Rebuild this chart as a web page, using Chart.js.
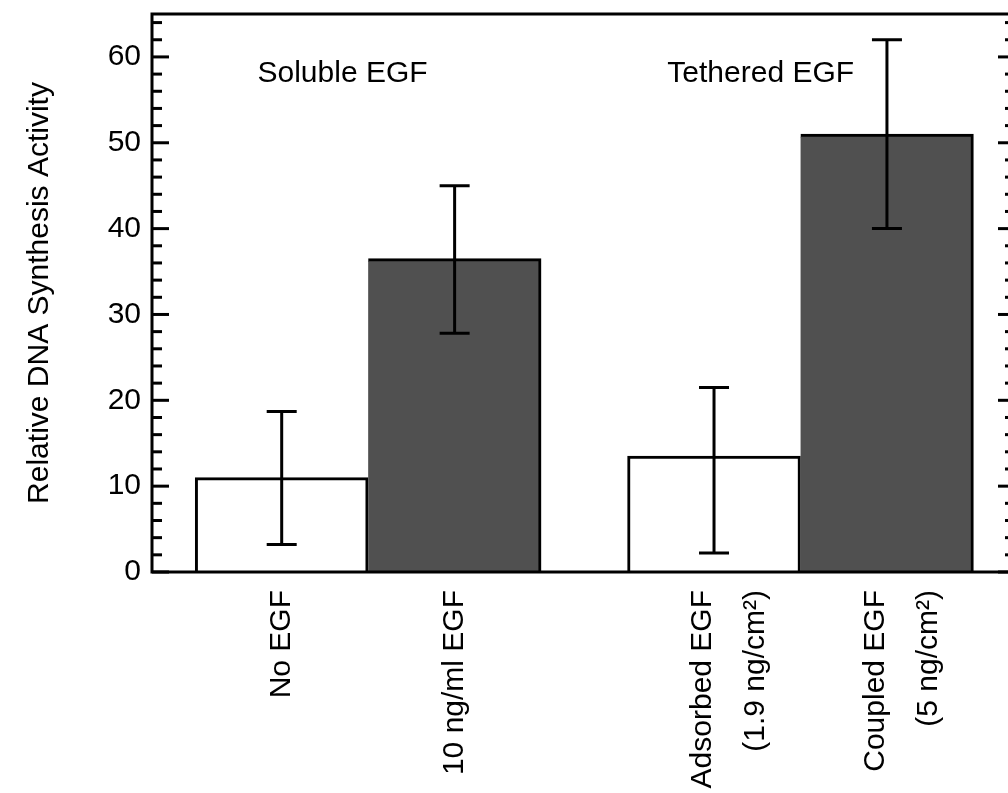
<!DOCTYPE html>
<html>
<head>
<meta charset="utf-8">
<script src="https://cdn.jsdelivr.net/npm/chart.js@4.4.1/dist/chart.umd.min.js"></script>
<style>
  html, body { margin: 0; padding: 0; background: #ffffff; overflow: hidden; }
  #wrap { position: relative; width: 1008px; height: 793px; }
</style>
</head>
<body>
<div id="wrap"><canvas id="chart" width="1008" height="793"></canvas></div>
<script>
// Treatments, split into soluble and tethered groups
const categories = [
  ['No EGF'],
  ['10 ng/ml EGF'],
  ['Adsorbed EGF', '(1.9 ng/cm²)'],
  ['Coupled EGF', '(5 ng/cm²)']
];
const positions = [0, 1, 2.5, 3.5];          // slot of each bar along the x scale
const activity = [11, 36.5, 13.5, 51];        // relative DNA synthesis activity
const errUpper = [18.7, 45, 21.5, 62];        // upper end of error bar
const errLower = [3.2, 27.8, 2.2, 40];        // lower end of error bar
const barFills = ['#ffffff', '#505050', '#ffffff', '#505050'];
const groupNames = ['Soluble EGF', 'Tethered EGF'];
const yTicks = [0, 10, 20, 30, 40, 50, 60];

const FONT = '"Liberation Sans", Arial, Helvetica, sans-serif';

// Group captions sit at these scale coordinates
const groupAnchors = [{ x: -0.14, y: 58 }, { x: 2.23, y: 58 }];

const frameAndMarks = {
  id: 'frameAndMarks',
  afterDatasetsDraw(chart) {
    const { ctx, chartArea: a, scales: { x, y } } = chart;
    ctx.save();
    ctx.strokeStyle = '#000';
    ctx.fillStyle = '#000';
    ctx.lineWidth = 3;
    ctx.lineCap = 'butt';

    // error bars
    positions.forEach((p, i) => {
      const px = x.getPixelForValue(p);
      const top = y.getPixelForValue(errUpper[i]);
      const bot = y.getPixelForValue(errLower[i]);
      ctx.beginPath();
      ctx.moveTo(px, top); ctx.lineTo(px, bot);
      ctx.moveTo(px - 15, top); ctx.lineTo(px + 15, top);
      ctx.moveTo(px - 15, bot); ctx.lineTo(px + 15, bot);
      ctx.stroke();
    });

    // frame: top edge, left axis, bottom axis
    ctx.beginPath();
    ctx.moveTo(a.right, a.top);
    ctx.lineTo(a.left, a.top);
    ctx.lineTo(a.left, a.bottom);
    ctx.lineTo(a.right, a.bottom);
    ctx.stroke();

    // inward ticks: solid on the left, dots and dashes on the right
    for (let v = 0; v <= y.max; v += 2) {
      const py = y.getPixelForValue(v);
      const major = v % 10 === 0;
      ctx.beginPath();
      ctx.moveTo(a.left, py);
      ctx.lineTo(a.left + (major ? 17 : 10), py);
      ctx.stroke();
      if (major) {
        ctx.beginPath();
        ctx.moveTo(a.right - 10, py);
        ctx.lineTo(a.right, py);
        ctx.stroke();
      } else {
        ctx.fillRect(a.right - 3, py - 1.5, 3, 3);
      }
    }

    // category labels, rotated to read upward
    ctx.font = '30px ' + FONT;
    ctx.textAlign = 'right';
    ctx.textBaseline = 'middle';
    categories.forEach((lines, i) => {
      const px = x.getPixelForValue(positions[i]);
      lines.forEach((line, j) => {
        const off = j * 53 - (lines.length - 1) * 11;
        ctx.save();
        ctx.translate(px + off, a.bottom + 18);
        ctx.rotate(-Math.PI / 2);
        ctx.fillText(line, 0, 0);
        ctx.restore();
      });
    });

    // group captions
    ctx.textAlign = 'left';
    groupNames.forEach((name, i) => {
      ctx.fillText(name, x.getPixelForValue(groupAnchors[i].x), y.getPixelForValue(groupAnchors[i].y));
    });
    ctx.restore();
  }
};

new Chart(document.getElementById('chart'), {
  type: 'bar',
  data: {
    datasets: [{
      data: positions.map((p, i) => ({ x: p, y: activity[i] })),
      backgroundColor: barFills,
      borderColor: '#000000',
      borderWidth: (c) => ({ top: 3, right: 3, bottom: 0, left: barFills[c.dataIndex] === '#ffffff' ? 3 : 0 }),
      borderSkipped: false,
      barPercentage: 1,
      categoryPercentage: 1
    }]
  },
  options: {
    responsive: false,
    animation: false,
    devicePixelRatio: 1,
    layout: { padding: { top: 14, left: 0, right: 0, bottom: 0 } },
    plugins: { legend: { display: false }, tooltip: { enabled: false } },
    scales: {
      x: {
        type: 'linear',
        offset: false,
        min: -0.75,
        max: 4.2,
        grid: { display: false, drawTicks: false, offset: false },
        border: { display: false },
        ticks: { display: false },
        afterBuildTicks: (s) => { s.ticks = positions.map(v => ({ value: v })); },
        afterFit: (s) => { s.height = 221; s.paddingLeft = 0; s.paddingRight = 0; }
      },
      y: {
        min: 0,
        max: 65,
        grid: { display: false, drawTicks: false },
        border: { display: false },
        afterBuildTicks: (s) => { s.ticks = yTicks.map(v => ({ value: v })); },
        afterFit: (s) => { s.width = 152; s.paddingTop = 0; s.paddingBottom = 0; },
        ticks: {
          color: '#000000',
          padding: 11,
          font: { family: FONT, size: 30 }
        },
        title: {
          display: true,
          text: 'Relative DNA Synthesis Activity',
          color: '#000000',
          font: { family: FONT, size: 30 },
          padding: { top: 22, bottom: 0 }
        }
      }
    }
  },
  plugins: [frameAndMarks]
});
</script>
</body>
</html>
